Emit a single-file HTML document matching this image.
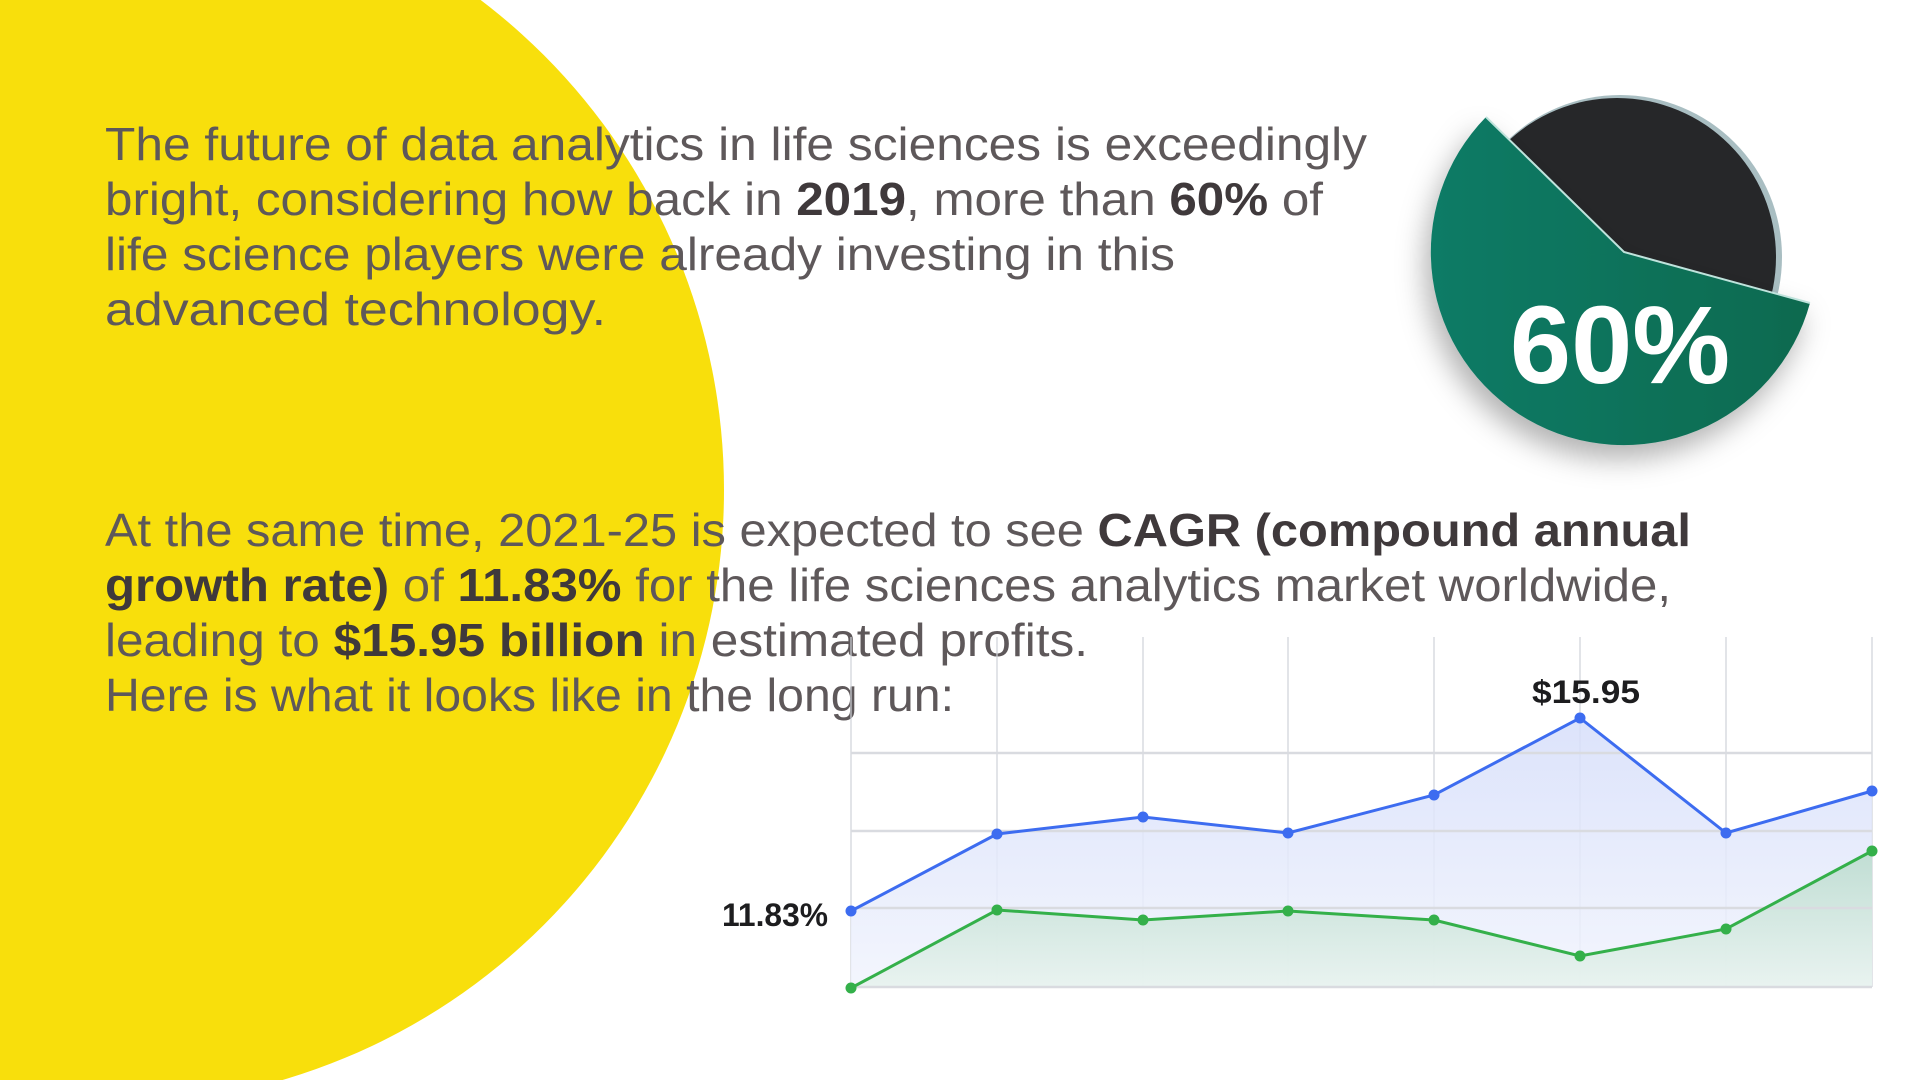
<!DOCTYPE html>
<html><head><meta charset="utf-8"><style>
html,body{margin:0;padding:0;background:#fff;}
svg{display:block;}
text{font-family:"Liberation Sans",sans-serif;}
</style></head><body>
<svg width="1920" height="1080" viewBox="0 0 1920 1080" xmlns="http://www.w3.org/2000/svg">
<defs>
<linearGradient id="gb" x1="0" y1="0" x2="0" y2="1"><stop offset="0" stop-color="#d6defa"/><stop offset="1" stop-color="#f1f4fd"/></linearGradient>
<linearGradient id="gg" x1="0" y1="0" x2="0" y2="1"><stop offset="0" stop-color="#bcdccf"/><stop offset="1" stop-color="#e8f3ef"/></linearGradient>
<linearGradient id="pg" x1="0" y1="0" x2="1" y2="0"><stop offset="0" stop-color="#0f7b66"/><stop offset="1" stop-color="#0f6a4f"/></linearGradient>
<filter id="sh" x="-30%" y="-30%" width="160%" height="160%"><feDropShadow dx="-6" dy="14" stdDeviation="14" flood-color="#000" flood-opacity="0.3"/></filter>
</defs>
<circle cx="109" cy="490" r="615" fill="#f8df0c"/>

<g fill="#5e585a" font-size="46">
<text x="105" y="160" textLength="1262" lengthAdjust="spacingAndGlyphs">The future of data analytics in life sciences is exceedingly</text>
<text x="105" y="215" textLength="1218" lengthAdjust="spacingAndGlyphs">bright, considering how back in <tspan font-weight="700" fill="#3f393b">2019</tspan>, more than <tspan font-weight="700" fill="#3f393b">60%</tspan> of</text>
<text x="105" y="270" textLength="1070" lengthAdjust="spacingAndGlyphs">life science players were already investing in this</text>
<text x="105" y="325" textLength="501" lengthAdjust="spacingAndGlyphs">advanced technology.</text>
<text x="105" y="546" textLength="1586" lengthAdjust="spacingAndGlyphs">At the same time, 2021-25 is expected to see <tspan font-weight="700" fill="#3f393b">CAGR (compound annual</tspan></text>
<text x="105" y="601" textLength="1566" lengthAdjust="spacingAndGlyphs"><tspan font-weight="700" fill="#3f393b">growth rate)</tspan> of <tspan font-weight="700" fill="#3f393b">11.83%</tspan> for the life sciences analytics market worldwide,</text>
<text x="105" y="656" textLength="983" lengthAdjust="spacingAndGlyphs">leading to <tspan font-weight="700" fill="#3f393b">$15.95 billion</tspan> in estimated profits.</text>
<text x="105" y="711" textLength="849" lengthAdjust="spacingAndGlyphs">Here is what it looks like in the long run:</text>
</g>

<g transform="translate(-4,-3)">
<g stroke="#cfd2d8" stroke-width="1.2">
<line x1="855" y1="640" x2="855" y2="990"/><line x1="1001" y1="640" x2="1001" y2="990"/><line x1="1147" y1="640" x2="1147" y2="990"/><line x1="1292" y1="640" x2="1292" y2="990"/><line x1="1438" y1="640" x2="1438" y2="990"/><line x1="1584" y1="640" x2="1584" y2="990"/><line x1="1730" y1="640" x2="1730" y2="990"/><line x1="1876" y1="640" x2="1876" y2="990"/>
</g>
<path d="M855 914 L1001 837 L1147 820 L1292 836 L1438 798 L1584 721 L1730 836 L1876 794 L1876 990 L855 990Z" fill="url(#gb)" opacity="0.85"/>
<path d="M855 991 L1001 913 L1147 923 L1292 914 L1438 923 L1584 959 L1730 932 L1876 854 L1876 990 L855 990Z" fill="url(#gg)" opacity="0.9"/>
<g stroke="#d9dbe0" stroke-width="2.5">
<line x1="855" y1="756" x2="1876" y2="756"/><line x1="855" y1="834" x2="1876" y2="834"/><line x1="855" y1="911" x2="1876" y2="911"/><line x1="855" y1="990" x2="1876" y2="990"/>
</g>
<polyline points="855,914 1001,837 1147,820 1292,836 1438,798 1584,721 1730,836 1876,794" fill="none" stroke="#3d6cf0" stroke-width="3"/>
<polyline points="855,991 1001,913 1147,923 1292,914 1438,923 1584,959 1730,932 1876,854" fill="none" stroke="#34b04a" stroke-width="3"/>
<g fill="#3d6cf0"><circle cx="855" cy="914" r="5.5"/><circle cx="1001" cy="837" r="5.5"/><circle cx="1147" cy="820" r="5.5"/><circle cx="1292" cy="836" r="5.5"/><circle cx="1438" cy="798" r="5.5"/><circle cx="1584" cy="721" r="5.5"/><circle cx="1730" cy="836" r="5.5"/><circle cx="1876" cy="794" r="5.5"/></g>
<g fill="#34b04a"><circle cx="855" cy="991" r="5.5"/><circle cx="1001" cy="913" r="5.5"/><circle cx="1147" cy="923" r="5.5"/><circle cx="1292" cy="914" r="5.5"/><circle cx="1438" cy="923" r="5.5"/><circle cx="1584" cy="959" r="5.5"/><circle cx="1730" cy="932" r="5.5"/><circle cx="1876" cy="854" r="5.5"/></g>
<text x="1590" y="706" text-anchor="middle" font-size="32" font-weight="700" fill="#1d1d1f" textLength="108" lengthAdjust="spacingAndGlyphs">$15.95</text>
<text x="832" y="929" text-anchor="end" font-size="32" font-weight="700" fill="#1d1d1f" textLength="106" lengthAdjust="spacingAndGlyphs">11.83%</text>
</g>

<g transform="translate(-7,-3)">
<circle cx="1627" cy="260" r="162" fill="#a9bec2"/>
<circle cx="1624" cy="260" r="159" fill="#262729"/>
<path d="M1631 255 L1817 306 A193 193 0 1 1 1493 120 Z" fill="url(#pg)" filter="url(#sh)"/>
<path d="M1493 120 L1631 255 L1817 306" fill="none" stroke="#bfe3dc" stroke-width="2"/>
<text x="1627" y="386" text-anchor="middle" font-size="110" font-weight="700" fill="#fff">60%</text>
</g>
</svg>
</body></html>
